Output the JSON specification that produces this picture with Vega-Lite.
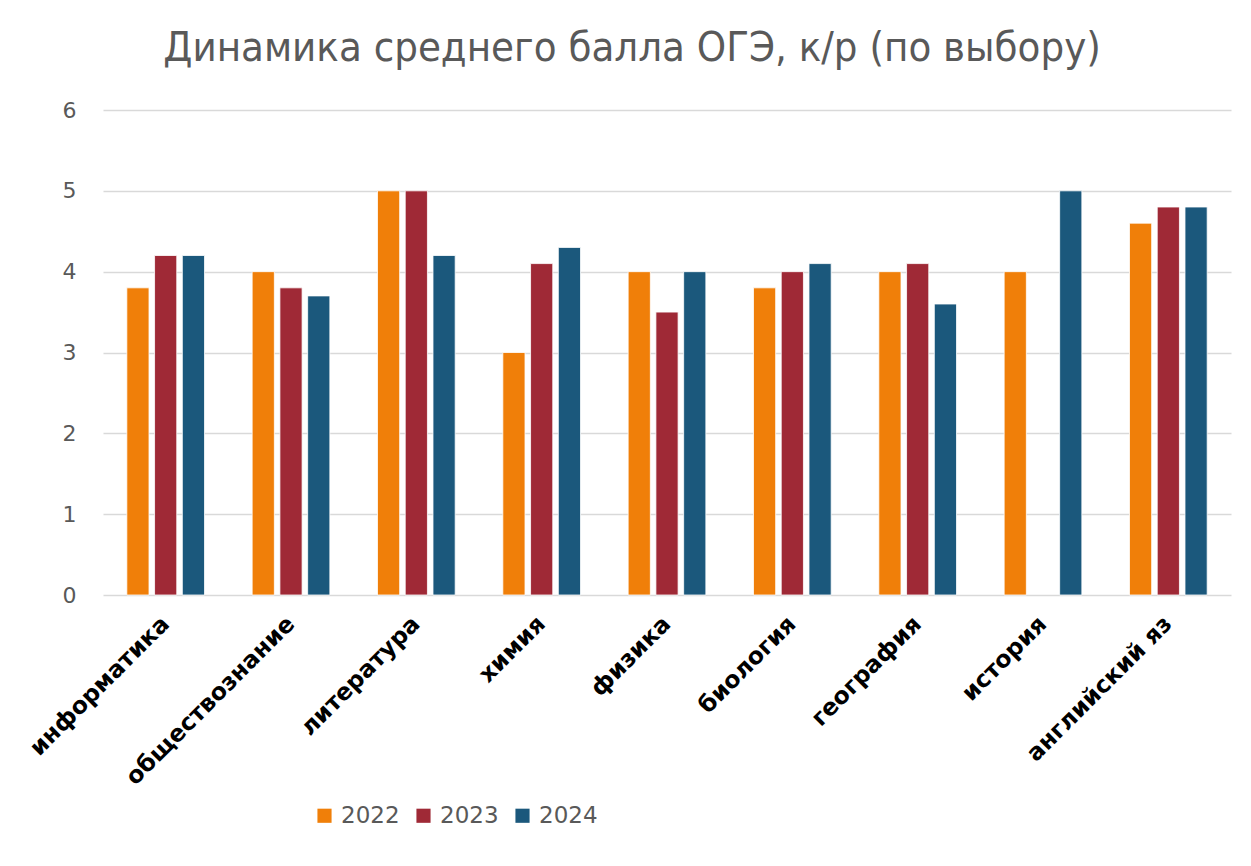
{
  "$schema": "https://vega.github.io/schema/vega-lite/v6.json",
  "width": 1128,
  "height": 485,
  "autosize": {"type": "none"},
  "padding": {"left": 103, "top": 110, "right": 20, "bottom": 271},
  "background": "white",
  "title": {
    "text": "Динамика среднего балла ОГЭ, к/р (по выбору)",
    "font": "DejaVu Sans Condensed",
    "fontSize": 41.5,
    "fontWeight": "normal",
    "color": "#595959",
    "anchor": "middle",
    "dx": -35,
    "offset": 30
  },
  "data": {
    "values": [
      {"subject": "информатика", "year": "2022", "score": 3.8},
      {"subject": "информатика", "year": "2023", "score": 4.2},
      {"subject": "информатика", "year": "2024", "score": 4.2},
      {"subject": "обществознание", "year": "2022", "score": 4.0},
      {"subject": "обществознание", "year": "2023", "score": 3.8},
      {"subject": "обществознание", "year": "2024", "score": 3.7},
      {"subject": "литература", "year": "2022", "score": 5.0},
      {"subject": "литература", "year": "2023", "score": 5.0},
      {"subject": "литература", "year": "2024", "score": 4.2},
      {"subject": "химия", "year": "2022", "score": 3.0},
      {"subject": "химия", "year": "2023", "score": 4.1},
      {"subject": "химия", "year": "2024", "score": 4.3},
      {"subject": "физика", "year": "2022", "score": 4.0},
      {"subject": "физика", "year": "2023", "score": 3.5},
      {"subject": "физика", "year": "2024", "score": 4.0},
      {"subject": "биология", "year": "2022", "score": 3.8},
      {"subject": "биология", "year": "2023", "score": 4.0},
      {"subject": "биология", "year": "2024", "score": 4.1},
      {"subject": "география", "year": "2022", "score": 4.0},
      {"subject": "география", "year": "2023", "score": 4.1},
      {"subject": "география", "year": "2024", "score": 3.6},
      {"subject": "история", "year": "2022", "score": 4.0},
      {"subject": "история", "year": "2024", "score": 5.0},
      {"subject": "английский яз", "year": "2022", "score": 4.6},
      {"subject": "английский яз", "year": "2023", "score": 4.8},
      {"subject": "английский яз", "year": "2024", "score": 4.8}
    ]
  },
  "mark": {"type": "bar", "stroke": "white", "strokeWidth": 0.8},
  "encoding": {
    "x": {
      "field": "subject",
      "type": "nominal",
      "sort": null,
      "scale": {"paddingInner": 0.38, "paddingOuter": 0.19},
      "axis": {
        "title": null,
        "labelAngle": -45,
        "labelAlign": "right",
        "labelBaseline": "middle",
        "labelFont": "DejaVu Sans",
        "labelFontWeight": "bold",
        "labelFontSize": 23.5,
        "labelLimit": 500,
        "labelColor": "#000000",
        "labelPadding": 25,
        "ticks": false,
        "domain": false,
        "grid": false
      }
    },
    "xOffset": {
      "field": "year",
      "type": "nominal",
      "scale": {"domain": ["2022", "2023", "2024"], "paddingInner": 0.2}
    },
    "y": {
      "field": "score",
      "type": "quantitative",
      "scale": {"domain": [0, 6], "nice": false},
      "axis": {
        "title": null,
        "values": [0, 1, 2, 3, 4, 5, 6],
        "labelFont": "DejaVu Sans",
        "labelFontSize": 22,
        "labelColor": "#595959",
        "labelPadding": 27,
        "ticks": false,
        "domain": false,
        "gridColor": "#d9d9d9",
        "gridWidth": 1.5
      }
    },
    "color": {
      "field": "year",
      "type": "nominal",
      "scale": {"domain": ["2022", "2023", "2024"], "range": ["#F07F09", "#9F2936", "#1B587C"]},
      "legend": {
        "title": null,
        "orient": "none",
        "direction": "horizontal",
        "legendX": 210,
        "legendY": 694,
        "symbolType": "square",
        "symbolSize": 200,
        "symbolStrokeWidth": 0,
        "labelFont": "DejaVu Sans",
        "labelFontSize": 23,
        "labelColor": "#595959",
        "columnPadding": 12,
        "labelOffset": 5
      }
    }
  },
  "config": {"view": {"stroke": null}}
}
